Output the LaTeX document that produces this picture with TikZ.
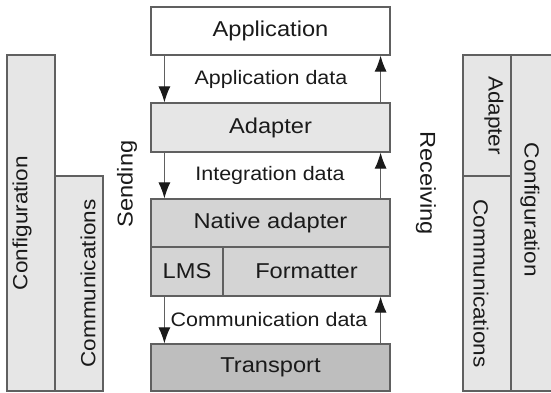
\documentclass[tikz,border=0pt]{standalone}
\usepackage{fontspec}
\setmainfont[FakeStretch=1.1]{Liberation Sans}
\usetikzlibrary{arrows.meta}
\definecolor{lightfill}{HTML}{E6E6E6}
\definecolor{midfill}{HTML}{D4D4D4}
\definecolor{darkfill}{HTML}{BEBEBE}
\definecolor{edge}{HTML}{606060}
\definecolor{ink}{HTML}{1A1A1A}
\begin{document}
\begin{tikzpicture}[x=1pt,y=-1pt,>={Latex[length=16pt,width=12pt,color=ink]},
    layer/.style={draw=edge,line width=1.2pt,text=ink,inner sep=0pt,
      font=\fontsize{21.5}{24}\selectfont},
    flow/.style={->,draw=edge,line width=1.1pt},
    label/.style={text=ink,inner sep=0pt,font=\fontsize{19.5}{22}\selectfont},
    side/.style={text=ink,inner sep=0pt,font=\fontsize{20.5}{22}\selectfont}]
        \useasboundingbox (0,0) rectangle (551,392);

        % centre stack
        \node[layer,fill=white,minimum width=239pt,minimum height=48pt] (app) at (270.5,31) {Application};
        \node[layer,fill=lightfill,minimum width=239pt,minimum height=49pt] (adp) at (270.5,127.5) {Adapter};
        \node[layer,fill=midfill,minimum width=239pt,minimum height=48pt] (native) at (270.5,223) {Native adapter};
        \node[layer,fill=midfill,minimum width=72pt,minimum height=49pt] (lms) at (187,271.5) {LMS};
        \node[layer,fill=midfill,minimum width=167pt,minimum height=49pt] (fmt) at (306.5,271.5) {Formatter};
        \node[layer,fill=darkfill,minimum width=239pt,minimum height=47pt] (trans) at (270.5,367.5) {Transport};

        \node[label] (appdata) at (271,79) {Application data};
        \node[label] (intdata) at (270,175.5) {Integration data};
        \node[label] (comdata) at (269,320) {Communication data};

        \draw[flow] ([xshift=14pt]app.south west) -- ([xshift=14pt]adp.north west);
        \draw[flow] ([xshift=-10pt]adp.north east) -- ([xshift=-10pt]app.south east);
        \draw[flow] ([xshift=14pt]adp.south west) -- ([xshift=14pt]native.north west);
        \draw[flow] ([xshift=-10pt]native.north east) -- ([xshift=-10pt]adp.south east);
        \draw[flow] ([xshift=14pt]lms.south west) -- ([xshift=14pt]trans.north west);
        \draw[flow] ([xshift=-10pt]trans.north east) -- ([xshift=-10pt]fmt.south east);

        \node[layer,draw=none,rotate=90] (send) at (127,184) {Sending};
        \node[layer,draw=none,rotate=-90] (recv) at (426,183) {Receiving};

        % left side
        \node[layer,fill=lightfill,minimum width=48pt,minimum height=336pt] (lconf) at (31,223) {};
        \node[side,rotate=90] (lconftxt) at (lconf.center) [yshift=9pt] {Configuration};
        \node[layer,fill=lightfill,minimum width=48pt,minimum height=215pt] (lcom) at (79,283.5) {};
        \node[side,rotate=90] (lcomtxt) at (lcom.center) [yshift=-9pt] {Communications};

        % right side
        \fill[lightfill] (511,55) rectangle (551,391);
        \draw[edge,line width=1.2pt] (551,55) -- (511,55) -- (511,391) -- (551,391);
        \node[side,rotate=-90] (rconftxt) at (530,210) {Configuration};
        \node[layer,fill=lightfill,minimum width=48pt,minimum height=121pt] (radp) at (487,115.5) {};
        \node[side,rotate=-90] (radptxt) at (radp.center) [yshift=7pt] {Adapter};
        \node[layer,fill=lightfill,minimum width=48pt,minimum height=215pt] (rcom) at (487,283.5) {};
        \node[side,rotate=-90] (rcomtxt) at (rcom.center) [yshift=-6pt] {Communications};
    \end{tikzpicture}
\end{document}
